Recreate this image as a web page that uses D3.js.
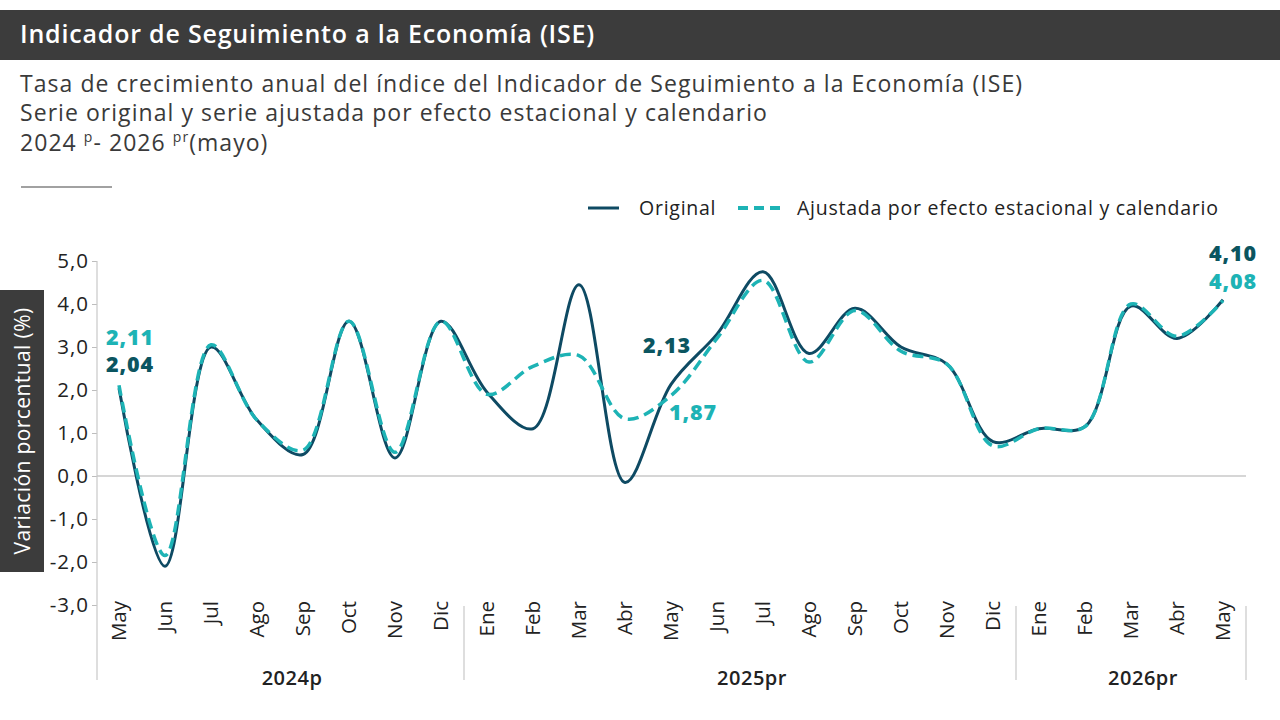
<!DOCTYPE html>
<html><head><meta charset="utf-8">
<script src="https://cdn.jsdelivr.net/npm/d3@7"></script>
<style>
html,body{margin:0;padding:0;background:#fff;}
svg{display:block;font-family:"Open Sans",sans-serif;}
</style></head>
<body><svg id="c" width="1280" height="720"></svg>
<script>
const months = ["May","Jun","Jul","Ago","Sep","Oct","Nov","Dic","Ene","Feb","Mar","Abr","May","Jun","Jul","Ago","Sep","Oct","Nov","Dic","Ene","Feb","Mar","Abr","May"];
const yearGroups = ["2024p","2025pr","2026pr"];
const yearCounts = [8,12,5];
const original = [2.04,-2.1,3.0,1.3,0.5,3.6,0.42,3.6,1.95,1.1,4.45,-0.15,2.13,3.3,4.75,2.85,3.9,3.0,2.6,0.8,1.1,1.15,3.95,3.2,4.10];
const ajustada = [2.11,-1.85,3.05,1.3,0.6,3.6,0.55,3.6,1.9,2.55,2.8,1.33,1.87,3.2,4.55,2.65,3.85,2.9,2.6,0.7,1.1,1.15,4.0,3.25,4.08];
const yTicks = [-3,-2,-1,0,1,2,3,4,5];

const svg = d3.select("#c");
const cDark = "#0e4a63", cTeal = "#1db3b5", cLblDark = "#0b5560";
const fmt = v => d3.format(".1f")(v).replace(".", ",").replace("−","-");
const fmt2 = v => d3.format(".2f")(v).replace(".", ",");

// Title bar
svg.append("rect").attr("x",0).attr("y",10).attr("width",1280).attr("height",50).attr("fill","#3c3c3c");
svg.append("text").attr("x",20).attr("y",43).attr("fill","#fff").attr("font-size",25).attr("font-weight",600)
  .attr("letter-spacing",0.8).text("Indicador de Seguimiento a la Economía (ISE)");

// Subtitle
const sub = svg.append("g").attr("fill","#3a3a3a").attr("font-size",23).attr("letter-spacing",1.05);
sub.append("text").attr("x",20).attr("y",92).text("Tasa de crecimiento anual del índice del Indicador de Seguimiento a la Economía (ISE)");
sub.append("text").attr("x",20).attr("y",121).text("Serie original y serie ajustada por efecto estacional y calendario");
const t3 = sub.append("text").attr("x",20).attr("y",151);
t3.append("tspan").text("2024 ");
t3.append("tspan").attr("font-size",14).attr("dy",-9).text("p");
t3.append("tspan").attr("dy",9).text("- 2026 ");
t3.append("tspan").attr("font-size",14).attr("dy",-9).text("pr");
t3.append("tspan").attr("dy",9).text("(mayo)");
svg.append("line").attr("x1",21).attr("x2",112).attr("y1",187).attr("y2",187).attr("stroke","#444").attr("stroke-width",1.2);

// Legend
const lg = svg.append("g").attr("font-size",19.5).attr("fill","#222").attr("letter-spacing",0.75);
lg.append("line").attr("x1",588).attr("x2",619).attr("y1",208).attr("y2",208).attr("stroke",cDark).attr("stroke-width",3);
lg.append("text").attr("x",639).attr("y",215).text("Original");
lg.append("line").attr("x1",738).attr("x2",784).attr("y1",208).attr("y2",208).attr("stroke",cTeal).attr("stroke-width",4).attr("stroke-dasharray","10,6");
lg.append("text").attr("x",797).attr("y",215).text("Ajustada por efecto estacional y calendario");

// Scales
const idx = d3.range(months.length);
const x = d3.scaleBand().domain(idx).range([96,1246]).padding(0);
const y = d3.scaleLinear().domain([-3,5]).range([605,261]);
const cx = i => x(i) + x.bandwidth()/2;

// Y axis label box
svg.append("rect").attr("x",0).attr("y",290).attr("width",44).attr("height",282).attr("fill","#3c3c3c");
svg.append("text").attr("transform","translate(30,431) rotate(-90)").attr("text-anchor","middle")
  .attr("fill","#fff").attr("font-size",21).attr("letter-spacing",0.4).text("Variación porcentual (%)");

// Zero line
svg.append("line").attr("x1",97).attr("x2",1246).attr("y1",y(0)).attr("y2",y(0)).attr("stroke","#c8c8c8").attr("stroke-width",1.5);

// Y axis
const ya = svg.append("g").attr("transform","translate(97,0)")
  .call(d3.axisLeft(y).tickValues(yTicks).tickFormat(fmt).tickSize(5).tickPadding(3));
ya.select(".domain").remove();
ya.selectAll(".tick line").attr("stroke","#bdbdbd");
ya.selectAll(".tick text").attr("font-size",20.5).attr("fill","#222").attr("font-family","Open Sans").attr("letter-spacing",1);
svg.append("line").attr("x1",97).attr("x2",97).attr("y1",261).attr("y2",680).attr("stroke","#c8c8c8").attr("stroke-width",1.2);

// X month labels
const xa = svg.append("g").attr("transform","translate(0,605)")
  .call(d3.axisBottom(x).tickFormat(i => months[i]).tickSize(0));
xa.select(".domain").remove();
xa.selectAll(".tick text").attr("font-size",20.5).attr("fill","#222").attr("font-family","Open Sans")
  .attr("text-anchor","end").attr("transform","rotate(-90)").attr("x",4).attr("y",0).attr("dy","0.35em");

// Year groups
let start = 0;
yearGroups.forEach((g,k) => {
  const a = x(start), b = x(start + yearCounts[k] - 1) + x.bandwidth();
  svg.append("text").attr("x",(a+b)/2 + 12).attr("y",685).attr("text-anchor","middle")
    .attr("font-size",20).attr("font-weight",600).attr("letter-spacing",0.5).attr("fill","#222").text(g);
  if (k > 0) svg.append("line").attr("x1",a).attr("x2",a).attr("y1",606).attr("y2",680).attr("stroke","#c8c8c8").attr("stroke-width",1.2);
  if (k === yearGroups.length-1) svg.append("line").attr("x1",b).attr("x2",b).attr("y1",606).attr("y2",680).attr("stroke","#c8c8c8").attr("stroke-width",1.2);
  start += yearCounts[k];
});

// Lines
const line = d3.line().x((d,i) => cx(i)).y(d => y(d)).curve(d3.curveCatmullRom.alpha(0.5));
svg.append("path").datum(original).attr("d",line).attr("fill","none").attr("stroke",cDark).attr("stroke-width",3);
svg.append("path").datum(ajustada).attr("d",line).attr("fill","none").attr("stroke",cTeal).attr("stroke-width",3.5).attr("stroke-dasharray","11,6");

// Data labels
const lbl = (i, arr, col, dx, dy) => svg.append("text").attr("x",cx(i)+dx).attr("y",y(arr[i])+dy)
  .attr("text-anchor","middle").attr("font-size",21.5).attr("font-weight",800).attr("letter-spacing",0.9)
  .attr("fill",col).text(fmt2(arr[i]));
lbl(0, ajustada, cTeal, 11, -40);
lbl(0, original, cLblDark, 11, -16);
lbl(12, original, cLblDark, -4, -31);
lbl(12, ajustada, cTeal, 22, 24);
const last = months.length-1;
lbl(last, original, cLblDark, 10, -39);
lbl(last, ajustada, cTeal, 10, -12);
</script></body></html>
